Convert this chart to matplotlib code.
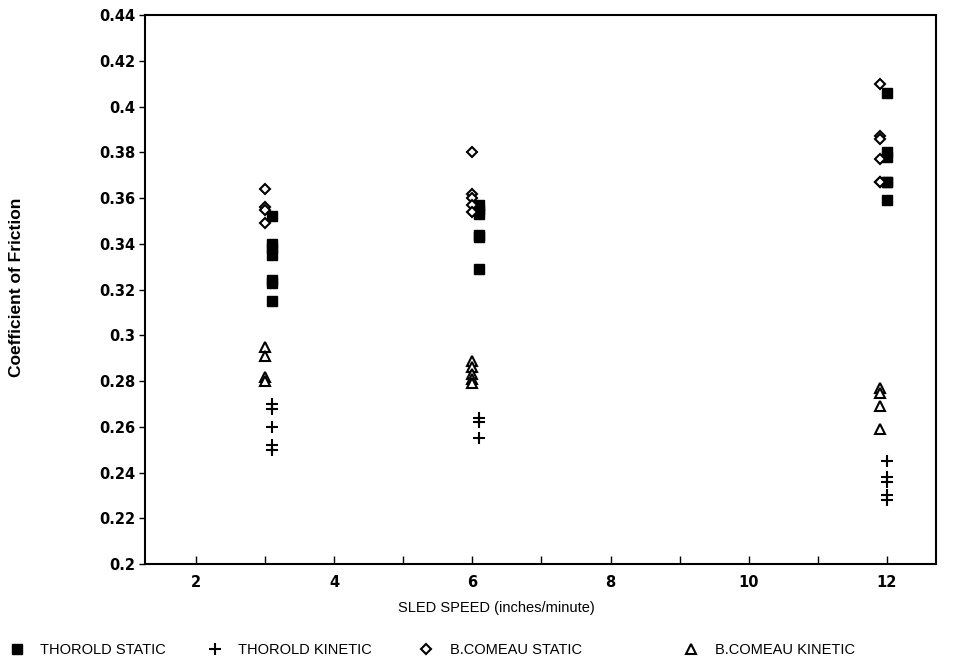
import matplotlib
matplotlib.use("Agg")
import matplotlib.pyplot as plt
import numpy as np

# Data
speeds_thorold = [3.1, 6.1, 12.0]
speeds_comeau = [3.0, 6.0, 11.9]

thorold_static = [
    [0.352, 0.340, 0.338, 0.335, 0.324, 0.323, 0.315],
    [0.357, 0.355, 0.353, 0.344, 0.343, 0.329],
    [0.406, 0.380, 0.378, 0.367, 0.367, 0.359],
]
thorold_kinetic = [
    [0.270, 0.268, 0.260, 0.252, 0.250],
    [0.264, 0.262, 0.255],
    [0.245, 0.238, 0.236, 0.230, 0.228],
]
comeau_static = [
    [0.364, 0.356, 0.355, 0.349],
    [0.380, 0.362, 0.360, 0.357, 0.354],
    [0.410, 0.387, 0.386, 0.377, 0.367, 0.367],
]
comeau_kinetic = [
    [0.295, 0.291, 0.282, 0.280],
    [0.289, 0.286, 0.283, 0.281, 0.279],
    [0.277, 0.275, 0.269, 0.259],
]

y_ticks = [0.2, 0.22, 0.24, 0.26, 0.28, 0.3, 0.32, 0.34, 0.36, 0.38, 0.4, 0.42, 0.44]
x_major = [2, 4, 6, 8, 10, 12]
x_minor = [3, 5, 7, 9, 11]

plt.rcParams['font.family'] = ['Liberation Sans', 'DejaVu Sans']

fig = plt.figure(figsize=(9.71, 6.64), dpi=100)
ax = fig.add_axes([0.149, 0.1506, 0.815, 0.8264])


def flatten(xs, groups):
    xx, yy = [], []
    for x, g in zip(xs, groups):
        xx += [x] * len(g)
        yy += list(g)
    return xx, yy


handles = []
x, y = flatten(speeds_thorold, thorold_static)
handles += ax.plot(x, y, linestyle='none', marker='s', markersize=6.5, markerfacecolor='black',
                   markeredgecolor='black', label='THOROLD STATIC')
x, y = flatten(speeds_thorold, thorold_kinetic)
handles += ax.plot(x, y, linestyle='none', marker='+', markersize=9, markeredgewidth=1.5,
                   color='black', label='THOROLD KINETIC')
x, y = flatten(speeds_comeau, comeau_static)
handles += ax.plot(x, y, linestyle='none', marker='D', markersize=5, markerfacecolor='white',
                   markeredgecolor='black', markeredgewidth=1.5, label='B.COMEAU STATIC')
x, y = flatten(speeds_comeau, comeau_kinetic)
handles += ax.plot(x, y, linestyle='none', marker='^', markersize=6.5, markerfacecolor='white',
                   markeredgecolor='black', markeredgewidth=1.5, label='B.COMEAU KINETIC')

ax.set_xlim(1.26, 12.71)
ax.set_ylim(0.2, 0.44)
ax.set_yticks(y_ticks)
ax.set_yticklabels([f"{v:g}" for v in y_ticks])
ax.set_xticks(x_major)
ax.set_xticks(x_minor, minor=True)
ax.set_xticklabels([str(v) for v in x_major])

ax.tick_params(axis='y', direction='out', length=4, width=1, pad=2.5)
ax.tick_params(axis='x', which='both', direction='in', length=6, width=1, pad=8)
for lbl in ax.get_xticklabels() + ax.get_yticklabels():
    lbl.set_fontweight('bold')
    lbl.set_fontfamily('DejaVu Sans')
    lbl.set_fontsize(10.5)

for s in ax.spines.values():
    s.set_linewidth(1.5)

ax.set_xlabel('SLED SPEED (inches/minute)', fontsize=10.5)
ax.xaxis.set_label_coords(0.444, -0.068)
ax.set_ylabel('Coefficient of Friction', fontsize=12.5, fontweight='bold')
ax.yaxis.set_label_coords(-0.152, 0.505)

legend_x = [0.008, 0.212, 0.430, 0.703]
for h, lx in zip(handles, legend_x):
    leg = fig.legend(handles=[h], loc='center left', bbox_to_anchor=(lx, 0.021),
                     frameon=False, fontsize=10.5, handletextpad=1.0, handlelength=1.2,
                     borderpad=0, borderaxespad=0)

fig.savefig('out.png', dpi=100)
